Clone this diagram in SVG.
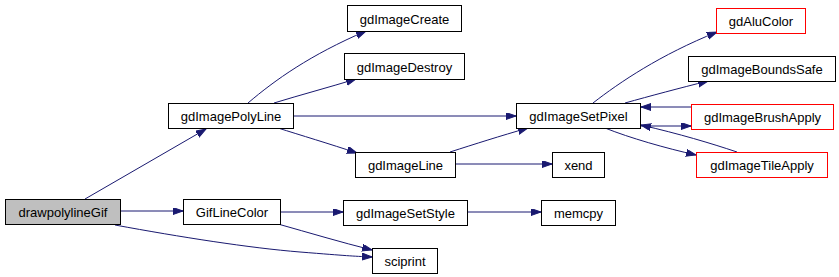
<svg xmlns="http://www.w3.org/2000/svg" width="839" height="277" viewBox="0 0 839 277">
<style>
.n rect{fill:#ffffff;stroke:#000000;stroke-width:1}
.n.root rect{fill:#bfbfbf}
.n.red rect{stroke:#ff0000}
.n text{font-family:"Liberation Sans",Arial,sans-serif;font-size:13px;fill:#000000;text-anchor:middle}
.e path{fill:none;stroke:#191970;stroke-width:1;marker-end:url(#ah)}
</style>
<defs>
<marker id="ah" markerUnits="userSpaceOnUse" markerWidth="11" markerHeight="8" refX="10" refY="3.5" orient="auto">
<path d="M0,0 L10,3.5 L0,7 Z" fill="#191970" stroke="#191970" stroke-width="1"/>
</marker>
</defs>
<rect width="839" height="277" fill="#ffffff"/>
<g id="edges" class="e">
<path d="M85,199 L206,129"/>
<path d="M121,211 L183,211"/>
<path d="M115,225 C180,237 250,248 300,252 S350,256 372,257"/>
<path d="M281,212 L343,212"/>
<path d="M278,224 C310,233 340,242 372,250"/>
<path d="M468,212 L541,212"/>
<path d="M248,103 C275,80 310,55 366,31"/>
<path d="M274,103 C300,95 330,87 356,79"/>
<path d="M294,116 L516,116"/>
<path d="M278,128 C300,135 330,144 357,153"/>
<path d="M450,152 C475,144 500,136 528,128"/>
<path d="M456,164 L552,164"/>
<path d="M593,103 C620,82 660,55 717,32"/>
<path d="M625,103 C650,96 680,88 708,81"/>
<path d="M691,107 L641,107"/>
<path d="M641,126 L691,126"/>
<path d="M605,128 C630,138 665,148 696,155"/>
<path d="M737,152 C710,143 680,134 641,125"/>
</g>
<g id="drawpolylineGif" class="n root"><rect x="5.5" y="199.5" width="115" height="25"/><text x="63" y="217">drawpolylineGif</text></g>
<g id="GifLineColor" class="n"><rect x="183.5" y="199.5" width="97" height="25"/><text x="232" y="217">GifLineColor</text></g>
<g id="gdImagePolyLine" class="n"><rect x="168.5" y="103.5" width="125" height="25"/><text x="231" y="121">gdImagePolyLine</text></g>
<g id="gdImageCreate" class="n"><rect x="347.5" y="5.5" width="114" height="26"/><text x="404.5" y="24">gdImageCreate</text></g>
<g id="gdImageDestroy" class="n"><rect x="344.5" y="53.5" width="120" height="26"/><text x="404.5" y="72">gdImageDestroy</text></g>
<g id="gdImageSetPixel" class="n"><rect x="516.5" y="103.5" width="124" height="25"/><text x="578.5" y="121">gdImageSetPixel</text></g>
<g id="gdImageLine" class="n"><rect x="355.5" y="152.5" width="100" height="25"/><text x="405.5" y="170">gdImageLine</text></g>
<g id="xend" class="n"><rect x="552.5" y="152.5" width="52" height="25"/><text x="578.5" y="170">xend</text></g>
<g id="gdImageSetStyle" class="n"><rect x="343.5" y="200.5" width="124" height="25"/><text x="405.5" y="218">gdImageSetStyle</text></g>
<g id="memcpy" class="n"><rect x="541.5" y="200.5" width="74" height="25"/><text x="578.5" y="218">memcpy</text></g>
<g id="sciprint" class="n"><rect x="372.5" y="248.5" width="65" height="25"/><text x="405" y="266">sciprint</text></g>
<g id="gdAluColor" class="n red"><rect x="716.5" y="8.5" width="89" height="25"/><text x="761" y="26">gdAluColor</text></g>
<g id="gdImageBoundsSafe" class="n"><rect x="688.5" y="56.5" width="147" height="25"/><text x="762" y="74">gdImageBoundsSafe</text></g>
<g id="gdImageBrushApply" class="n red"><rect x="691.5" y="104.5" width="142" height="25"/><text x="762.5" y="122">gdImageBrushApply</text></g>
<g id="gdImageTileApply" class="n red"><rect x="696.5" y="152.5" width="131" height="25"/><text x="762" y="170">gdImageTileApply</text></g>
</svg>
